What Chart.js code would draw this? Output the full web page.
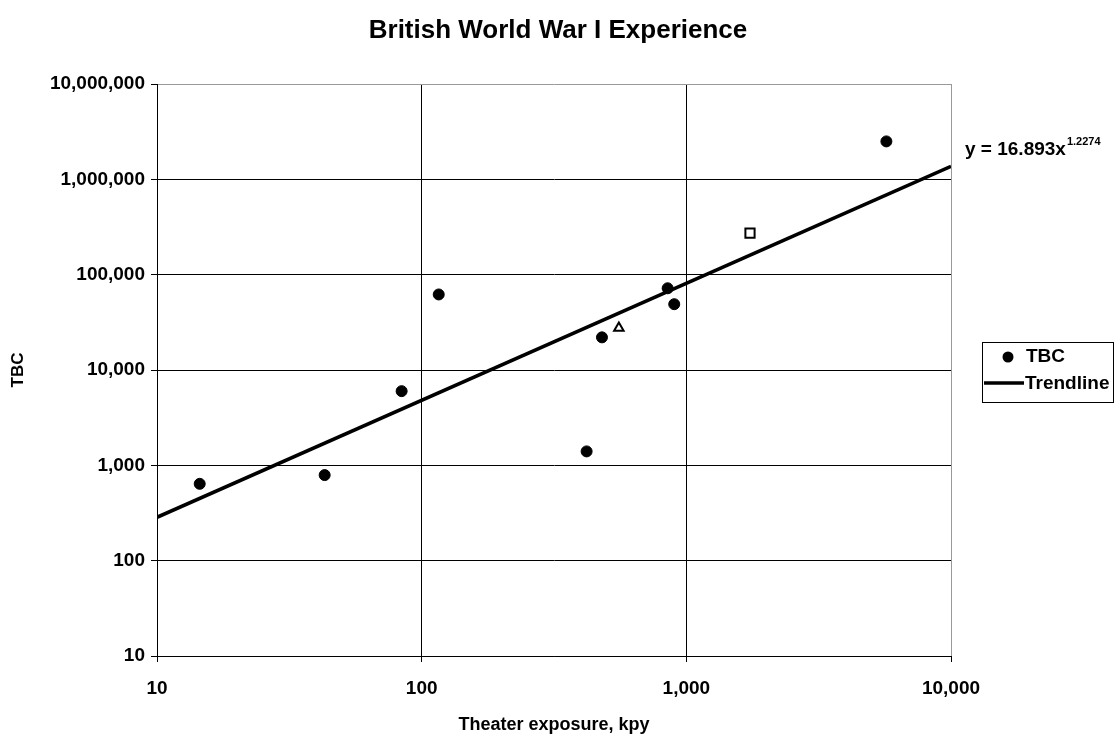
<!DOCTYPE html>
<html>
<head>
<meta charset="utf-8">
<script src="https://cdn.jsdelivr.net/npm/chart.js@4/dist/chart.umd.min.js"></script>
<style>
  body { margin: 0; background: #fff; }
  #chart { display: block; }
</style>
</head>
<body>
<canvas id="chart" width="1115" height="744"></canvas>
<script>
// Theater exposure (kpy) and TBC values
const tbcX = [14.5, 43, 84, 116, 420, 480, 850, 900, 5700];
const tbcY = [640, 790, 6000, 62000, 1400, 22000, 72000, 49000, 2500000];
// open triangle and open square points
const triX = [556];
const triY = [27500];
const sqX = [1740];
const sqY = [273000];

// power trendline y = a * x^b
const trendA = 16.893;
const trendB = 1.2274;
const trendX = [10, 10000];

const xTicks = [10, 100, 1000, 10000];
const yTicks = [10, 100, 1000, 10000, 100000, 1000000, 10000000];

const chartTitle = 'British World War I Experience';
const FONT = '"Liberation Sans", Arial, sans-serif';

function toPoints(xs, ys) {
    return xs.map((x, i) => ({ x: x, y: ys[i] }));
}

function fmt(v) {
    return Number(v).toLocaleString('en-US');
}

// title, legend box and equation label
const extras = {
    id: 'extras',
    afterDraw(chart) {
        const ctx = chart.ctx;
        const area = chart.chartArea;
        ctx.save();
        ctx.fillStyle = '#000';
        ctx.strokeStyle = '#000';

        // title centred over the whole picture
        ctx.font = 'bold 26px ' + FONT;
        ctx.textAlign = 'center';
        ctx.textBaseline = 'middle';
        ctx.fillText(chartTitle, 558, 31);

        // equation next to the end of the trendline
        ctx.textBaseline = 'alphabetic';
        ctx.textAlign = 'left';
        ctx.font = 'bold 19px ' + FONT;
        const eq = 'y = ' + trendA + 'x';
        const eqX = area.right + 14;
        const eqY = 155;
        ctx.fillText(eq, eqX, eqY);
        const w = ctx.measureText(eq).width;
        ctx.font = 'bold 11px ' + FONT;
        ctx.fillText(String(trendB), eqX + w + 1, eqY - 10);

        // legend
        const bx = 982, by = 342, bw = 131, bh = 60;
        ctx.lineWidth = 1;
        ctx.strokeRect(bx + 0.5, by + 0.5, bw, bh);
        ctx.beginPath();
        ctx.arc(1008, 357, 5.5, 0, Math.PI * 2);
        ctx.fill();
        ctx.lineWidth = 3.5;
        ctx.beginPath();
        ctx.moveTo(984, 383);
        ctx.lineTo(1024, 383);
        ctx.stroke();
        ctx.font = 'bold 19px ' + FONT;
        ctx.textBaseline = 'middle';
        ctx.fillText('TBC', 1026, 357);
        ctx.fillText('Trendline', 1025, 384);

        ctx.restore();
    }
};

new Chart(document.getElementById('chart'), {
    type: 'scatter',
    data: {
        datasets: [
            {
                label: 'Trendline',
                type: 'line',
                data: trendX.map(x => ({ x: x, y: trendA * Math.pow(x, trendB) })),
                borderColor: '#000',
                borderWidth: 3.5,
                pointRadius: 0,
                fill: false
            },
            {
                label: 'TBC',
                data: toPoints(tbcX, tbcY),
                backgroundColor: '#000',
                borderColor: '#000',
                pointRadius: 5.5,
                pointStyle: 'circle'
            },
            {
                label: 'TBC triangle',
                data: toPoints(triX, triY),
                backgroundColor: '#fff',
                borderColor: '#000',
                borderWidth: 2,
                pointRadius: 5.5,
                pointStyle: 'triangle'
            },
            {
                label: 'TBC square',
                data: toPoints(sqX, sqY),
                backgroundColor: '#fff',
                borderColor: '#000',
                borderWidth: 2,
                pointRadius: 6.5,
                pointStyle: 'rect'
            }
        ]
    },
    options: {
        responsive: false,
        animation: false,
        layout: { padding: { left: 0, right: 164, top: 84, bottom: 0 } },
        plugins: {
            legend: { display: false },
            tooltip: { enabled: false },
            title: { display: false }
        },
        scales: {
            x: {
                type: 'logarithmic',
                min: 10,
                max: 10000,
                afterBuildTicks: s => { s.ticks = xTicks.map(v => ({ value: v })); },
                afterFit: s => { s.height = 88; },
                ticks: {
                    color: '#000',
                    padding: 15,
                    maxRotation: 0,
                    font: { family: FONT, size: 19, weight: 'bold' },
                    callback: v => fmt(v)
                },
                grid: {
                    color: ctx => (ctx.tick && ctx.tick.value === 10000) ? '#999' : '#000',
                    lineWidth: 1,
                    tickLength: 6,
                    tickColor: '#000'
                },
                border: { color: '#000', width: 1 },
                title: {
                    display: true,
                    text: 'Theater exposure, kpy',
                    color: '#000',
                    font: { family: FONT, size: 18, weight: 'bold' },
                    padding: { top: 0, bottom: 8 }
                }
            },
            y: {
                type: 'logarithmic',
                min: 10,
                max: 10000000,
                afterBuildTicks: s => { s.ticks = yTicks.map(v => ({ value: v })); },
                afterFit: s => { s.width = 157; },
                ticks: {
                    color: '#000',
                    padding: 6,
                    font: { family: FONT, size: 19, weight: 'bold' },
                    callback: v => fmt(v)
                },
                grid: {
                    color: ctx => (ctx.tick && ctx.tick.value === 10000000) ? '#999' : '#000',
                    lineWidth: 1,
                    tickLength: 6,
                    tickColor: '#000'
                },
                border: { color: '#000', width: 1 },
                title: {
                    display: true,
                    text: 'TBC',
                    color: '#000',
                    font: { family: FONT, size: 17, weight: 'bold' },
                    padding: { top: 8, bottom: 0 }
                }
            }
        }
    },
    plugins: [extras]
});
</script>
</body>
</html>
